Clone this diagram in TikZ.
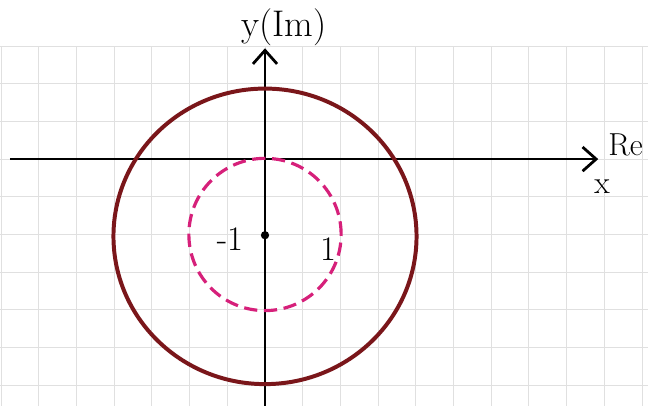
\documentclass[tikz,border=0pt]{standalone}
\usepackage{amsmath,amssymb}
\usepackage{tikz}
\usetikzlibrary{arrows.meta}
\definecolor{rimred}{RGB}{122,22,26}
\definecolor{dashpink}{RGB}{214,32,122}
\tikzset{
  gridline/.style={gray!24,line width=0.7pt},
  axisline/.style={line width=2.1pt,-{Straight Barb[length=3.6mm,width=6.4mm,line width=2.1pt]}},
  hand/.style={inner sep=0pt,font=\fontsize{26}{28}\selectfont},
}
\begin{document}
\begin{tikzpicture}
        \useasboundingbox (-7.03,-6.55) rectangle (10.16,4.22);
        \fill[white] (-7.03,-6.55) rectangle (10.16,4.22);
        \draw[gridline] (-7.03,-6.55) grid (10.16,3);
        \coordinate (reL) at (-6.77,0);
        \coordinate (reR) at (8.84,0);
        \coordinate (imB) at (0,-6.6);
        \coordinate (imT) at (0,2.94);
        \draw[axisline] (reL) -- (reR);
        \draw[axisline] (imB) -- (imT);
        \draw[rimred,line width=3pt] (0,-2.05) ellipse [x radius=4.02,y radius=3.92];
        \draw[dashpink,line width=2.4pt,dash pattern=on 10pt off 5pt] (0,-2) circle (2.02);
        \node[circle,fill=black,inner sep=0pt,minimum size=2.2mm] (ctr) at (0,-2.02) {};
        \node[hand,font=\fontsize{28}{30}\selectfont] (imlabel) at (0.5,3.5) {y(Im)};
        \node[hand,font=\fontsize{24}{26}\selectfont,anchor=west] (relabel) at (9.1,0.37) {Re};
        \node[hand,font=\fontsize{24}{26}\selectfont] (xlabel) at (8.94,-0.74) {x};
        \node[hand] (mone) at (-0.93,-2.12) {-1};
        \node[hand] (pone) at (1.67,-2.4) {1};
      \end{tikzpicture}
\end{document}
